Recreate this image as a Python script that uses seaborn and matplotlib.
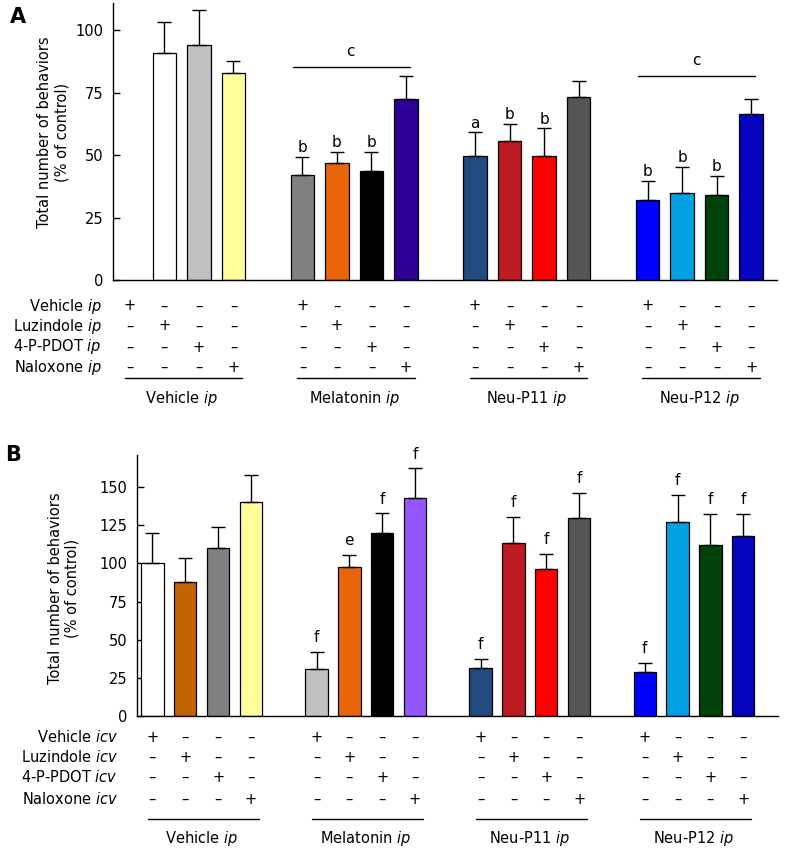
import numpy as np
import pandas as pd
import matplotlib
matplotlib.use("Agg")
import matplotlib.pyplot as plt
import seaborn as sns

# ── data ─────────────────────────────────────────────────────────────────────
groups = ["Vehicle", "Melatonin", "Neu-P11", "Neu-P12"]
treatments = ["Vehicle", "Luzindole", "4-P-PDOT", "Naloxone"]

# panel A: ip antagonists (Vehicle/Vehicle control not shown)
mean_a = [np.nan, 90.8, 94.0, 82.8,
          41.9, 46.7, 43.5, 72.4,
          49.5, 55.5, 49.5, 73.2,
          31.9, 34.7, 33.9, 66.4]
sem_a = [np.nan, 12.4, 14.0, 4.8,
         7.2, 4.7, 7.9, 9.2,
         9.6, 6.9, 11.2, 6.4,
         7.6, 10.4, 7.6, 6.0]
letters_a = ["", "", "", "",
             "b", "b", "b", "",
             "a", "b", "b", "",
             "b", "b", "b", ""]
bracket_a = ["Melatonin", "Neu-P12"]   # groups marked with "c"

# panel B: icv antagonists
mean_b = [100.1, 87.7, 110.0, 139.9,
          30.6, 97.5, 119.8, 142.7,
          31.3, 113.2, 96.2, 129.6,
          28.6, 127.0, 111.9, 118.0]
sem_b = [20.1, 15.7, 13.7, 18.3,
         11.6, 7.9, 12.9, 19.5,
         6.1, 17.5, 9.8, 16.8,
         6.4, 17.7, 20.4, 14.3]
letters_b = ["", "", "", "",
             "f", "e", "f", "f",
             "f", "f", "f", "f",
             "f", "f", "f", "f"]

colors_a = ["#ffffff", "#ffffff", "#c0c0c0", "#ffff99",
            "#808080", "#e8650a", "#000000", "#2e0096",
            "#214a7f", "#be1a22", "#ff0000", "#555555",
            "#0000ff", "#00a0e3", "#00420a", "#0505c0"]
colors_b = ["#ffffff", "#c26400", "#808080", "#ffff99",
            "#c0c0c0", "#e8650a", "#000000", "#9457ff",
            "#214a7f", "#be1a22", "#ff0000", "#555555",
            "#0000ff", "#00a0e3", "#00420a", "#0505c0"]

# ── helpers ──────────────────────────────────────────────────────────────────
conds = [f"{g}|{t}" for g in groups for t in treatments]
order = []
for gi, g in enumerate(groups):
    order += [f"{g}|{t}" for t in treatments]
    if gi < len(groups) - 1:
        order.append(f"gap{gi}")

W, H = 786, 850
sns.set_style("ticks")
plt.rcParams["font.family"] = ["DejaVu Sans"]
plt.rcParams["mathtext.fontset"] = "dejavusans"
plt.rcParams.update({"text.color": "black", "axes.labelcolor": "black",
                     "xtick.color": "black", "ytick.color": "black",
                     "axes.edgecolor": "black"})

fig = plt.figure(figsize=(W / 100, H / 100), dpi=100)


def panel(box, means, sems, letters, colors, ylim, yticks, route, xlim,
          letter_pad, ylab_xy, row_px, label_x):
    left, top, right, bottom = box
    ax = fig.add_axes([left / W, 1 - bottom / H, (right - left) / W, (bottom - top) / H])
    df = pd.DataFrame({"cond": conds, "value": means, "sem": sems})
    df = df.dropna()
    pal = dict(zip(conds, colors))
    sns.barplot(data=df, x="cond", y="value", order=order, hue="cond",
                palette=pal, legend=False, width=0.68, saturation=1,
                edgecolor="black", linewidth=0.9, errorbar=None, ax=ax)
    pos = [order.index(c) for c in df["cond"]]
    ax.errorbar(pos, df["value"], yerr=[np.zeros(len(df)), df["sem"]],
                fmt="none", ecolor="black", elinewidth=1, capsize=5, capthick=1)
    for c, v, s in zip(conds, means, sems):
        lab = letters[conds.index(c)]
        if lab and not np.isnan(v):
            ax.annotate(lab, (order.index(c), v + s), xytext=(0, letter_pad),
                        textcoords="offset points", ha="center", va="baseline",
                        fontsize=11)
    ax.set_ylim(*ylim)
    ax.set_xlim(*xlim)
    ax.set_yticks(yticks)
    ax.set_xticks([])
    ax.set_xlabel("")
    ax.set_ylabel("Total number of behaviors\n(% of control)", fontsize=10.5)
    ax.yaxis.set_label_coords(*ylab_xy)
    ax.tick_params(axis="y", direction="in", length=5, width=1, labelsize=10.5, pad=7)
    sns.despine(ax=ax)
    for sp in ["left", "bottom"]:
        ax.spines[sp].set_linewidth(1)

    # treatment table below the axis
    ah = bottom - top
    tr = ax.get_xaxis_transform()
    for ri, t in enumerate(treatments):
        y = -(row_px[ri]) / ah
        ax.text(label_x, y, f"{t} $\\mathit{{{route}}}$", transform=tr,
                ha="right", va="center", fontsize=10.5, clip_on=False)
        for g in groups:
            for ti, t2 in enumerate(treatments):
                sym = "+" if ti == ri else "\u2013"
                ax.text(order.index(f"{g}|{t2}"), y, sym, transform=tr,
                        ha="center", va="center", fontsize=10.5, clip_on=False)
    for g in groups:
        x0 = order.index(f"{g}|{treatments[0]}")
        x3 = order.index(f"{g}|{treatments[-1]}")
        ax.plot([x0 - 0.15, x3 + 0.25], [-row_px[4] / ah] * 2, color="black",
                lw=1, transform=tr, clip_on=False)
        ax.text((x0 + x3) / 2, -row_px[5] / ah, f"{g} $\\mathit{{ip}}$",
                transform=tr, ha="center", va="center", fontsize=10.5, clip_on=False)
    return ax


ax_a = panel((113, 3, 777, 280), mean_a, sem_a, letters_a, colors_a,
             (0, 110.9), [0, 25, 50, 75, 100], "ip", (-0.49, 18.75),
             3.5, (-0.065, 0.534), [26, 46, 67, 87, 98, 118], -0.81)

# "c" brackets over whole groups in panel A
for g, ypos in zip(bracket_a, [85.2, 81.6]):
    x0 = order.index(f"{g}|{treatments[0]}")
    x3 = order.index(f"{g}|{treatments[-1]}")
    ax_a.plot([x0 - 0.28, x3 + 0.12], [ypos, ypos], color="black", lw=1)
    ax_a.annotate("c", ((x0 + x3) / 2 - 0.1, ypos), xytext=(0, 8),
                  textcoords="offset points", ha="center", va="baseline", fontsize=11)

ax_b = panel((137, 455, 778, 716), mean_b, sem_b, letters_b, colors_b,
             (0, 171), [0, 25, 50, 75, 100, 125, 150], "icv", (-0.47, 19.06),
             7, (-0.089, 0.49), [21, 41, 61, 83, 103, 123], -1.05)

fig.text(10 / W, 1 - 17 / H, "A", fontsize=15, fontweight="bold", ha="left", va="center")
fig.text(5 / W, 1 - 455 / H, "B", fontsize=15, fontweight="bold", ha="left", va="center")

fig.savefig("out.png", dpi=100)
